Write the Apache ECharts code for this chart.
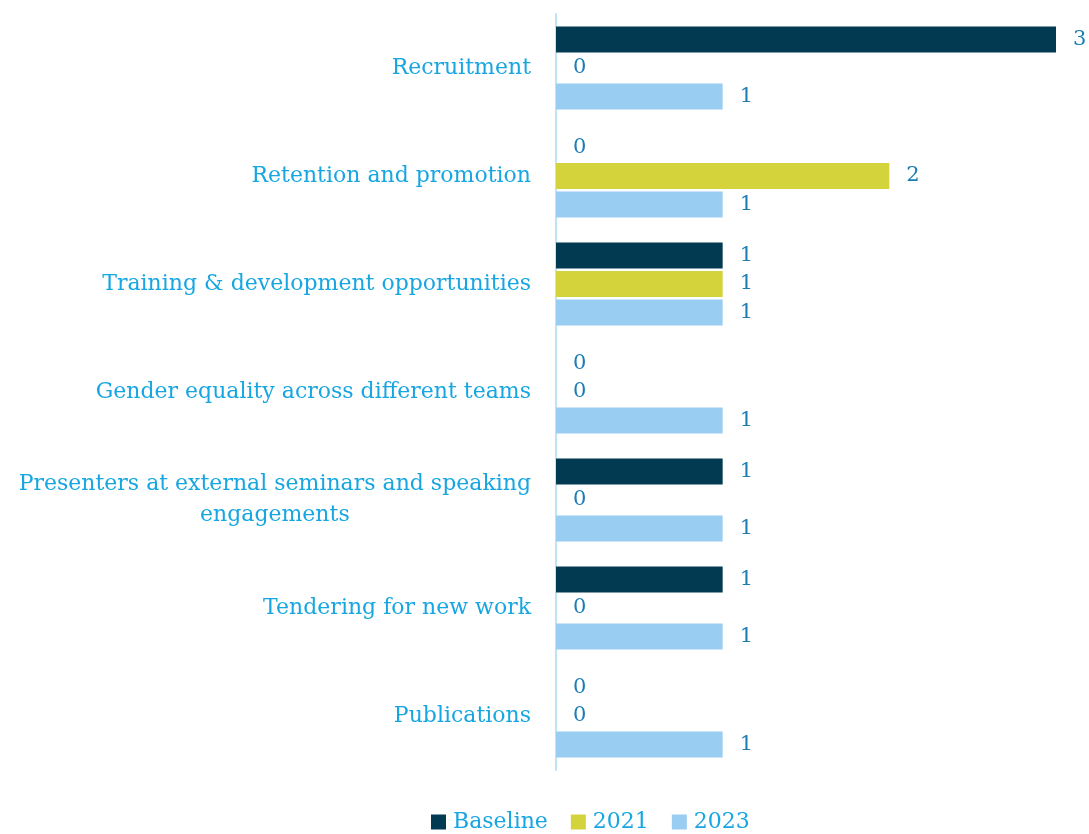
<!DOCTYPE html>
<html>
<head>
<meta charset="utf-8">
<script src="https://cdn.jsdelivr.net/npm/echarts@6/dist/echarts.min.js"></script>
<style>
  html, body { margin: 0; padding: 0; background: #ffffff; }
  #chart { width: 1089px; height: 834px; }
</style>
</head>
<body>
<div id="chart"></div>
<script>
// Areas of focus, top to bottom
const categories = [
  'Recruitment',
  'Retention and promotion',
  'Training & development opportunities',
  'Gender equality across different teams',
  'Presenters at external seminars and speaking\nengagements',
  'Tendering for new work',
  'Publications'
];
const seriesNames = ['Baseline', '2021', '2023'];
const baseline = [3, 0, 1, 0, 1, 1, 0];
const y2021 = [0, 2, 1, 0, 0, 0, 0];
const y2023 = [1, 1, 1, 1, 1, 1, 1];

const colors = ['#023A52', '#D4D33C', '#99CDF1'];
const fontFamily = '"DejaVu Serif", "Liberation Serif", serif';
const labelBlue = '#17A6E2';

const chart = echarts.init(document.getElementById('chart'));

function barSeries(name, data, color) {
  return {
    name: name,
    type: 'bar',
    data: data,
    barWidth: 26,
    barGap: '10%',
    itemStyle: { color: color },
    label: {
      show: true,
      position: 'right',
      distance: 17,
      color: '#1B7DB4',
      fontFamily: fontFamily,
      fontSize: 21
    }
  };
}

chart.setOption({
  animation: false,
  color: colors,
  grid: { left: 556, right: 33, top: 14, bottom: 64, containLabel: false },
  xAxis: {
    type: 'value',
    min: 0,
    max: 3,
    show: false
  },
  yAxis: {
    type: 'category',
    inverse: true,
    data: categories,
    axisLine: { show: true, lineStyle: { color: '#BDE4F7', width: 2 } },
    axisTick: { show: false },
    axisLabel: {
      margin: 25,
      fontFamily: fontFamily,
      fontSize: 22,
      color: labelBlue,
      lineHeight: 31,
      formatter: function (v) {
        const lines = v.split('\n');
        if (lines.length === 1) return '{a|' + lines[0] + '}';
        return '{a|' + lines[0] + '}\n{c|' + lines[1] + '}';
      },
      rich: {
        a: { fontFamily: fontFamily, fontSize: 22, color: labelBlue, lineHeight: 31 },
        c: { fontFamily: fontFamily, fontSize: 22, color: labelBlue, lineHeight: 31, align: 'center' }
      }
    }
  },
  legend: {
    bottom: -4,
    left: 426,
    itemWidth: 15,
    itemHeight: 15,
    itemGap: 23,
    icon: 'rect',
    textStyle: { fontFamily: fontFamily, fontSize: 22, color: labelBlue, padding: [0, 0, 0, 2] },
    data: seriesNames
  },
  series: [
    barSeries(seriesNames[0], baseline, colors[0]),
    barSeries(seriesNames[1], y2021, colors[1]),
    barSeries(seriesNames[2], y2023, colors[2])
  ]
});
</script>
</body>
</html>
